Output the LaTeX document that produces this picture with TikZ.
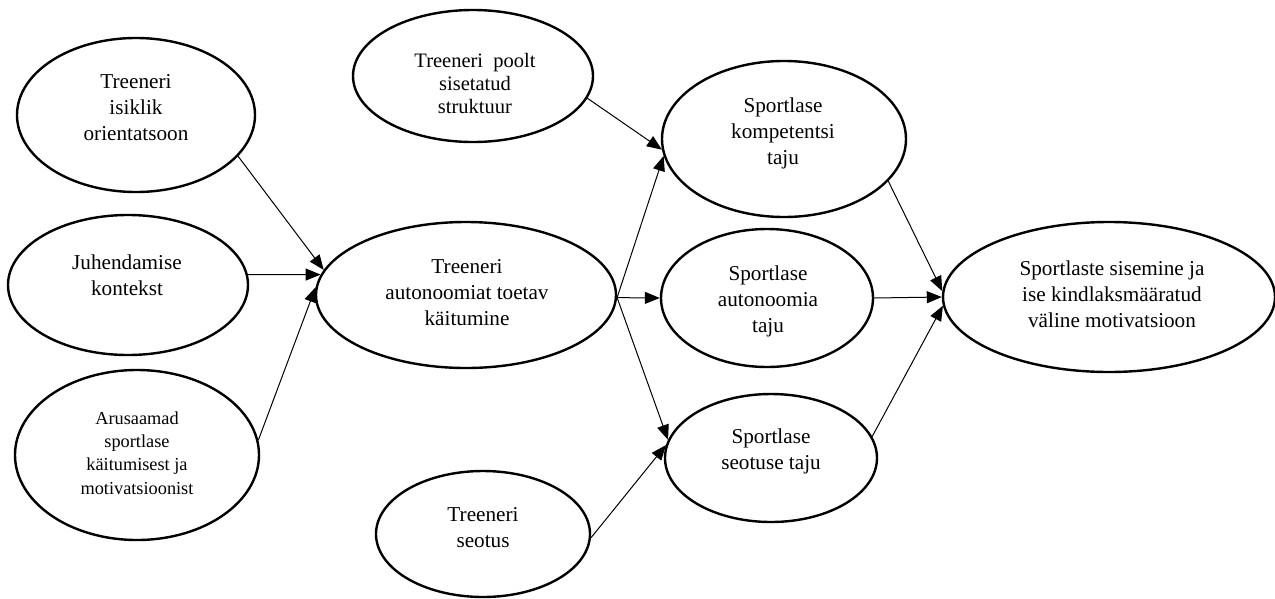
\documentclass[tikz,border=0pt]{standalone}
\usepackage{fontspec}
\setmainfont{Liberation Serif}
\usetikzlibrary{arrows.meta,shapes.geometric}
\tikzset{
  ell/.style={draw, ellipse, line width=2.4pt, inner sep=0pt},
  txt/.style={align=center, inner sep=0pt, font=\fontsize{21.2}{26}\selectfont},
  arr/.style={line width=1pt, -{Triangle[length=15pt,width=12pt]}}
}
\begin{document}
\begin{tikzpicture}[x=1pt,y=-1pt]
\useasboundingbox (0,0) rectangle (1275,598);
% ellipses
\node[ell, minimum width=238pt, minimum height=154pt] (e1) at (136,115) {};
\node[ell, minimum width=240pt, minimum height=140pt] (e2) at (128,285) {};
\node[ell, minimum width=244pt, minimum height=170pt] (e3) at (137,455) {};
\node[ell, minimum width=240pt, minimum height=132pt] (e4) at (473,76) {};
\node[ell, minimum width=300pt, minimum height=146pt] (e5) at (466,295) {};
\node[ell, minimum width=244pt, minimum height=156pt] (e6) at (784,139) {};
\node[ell, minimum width=212pt, minimum height=138pt] (e7) at (767,298) {};
\node[ell, minimum width=212pt, minimum height=128pt] (e8) at (771,458) {};
\node[ell, minimum width=332pt, minimum height=150pt] (e9) at (1109,297) {};
\node[ell, minimum width=214pt, minimum height=126pt] (e10) at (483,534) {};
% texts
\node[txt] (t1) at (136,108) {Treeneri\\isiklik\\orientatsoon};
\node[txt] (t2) at (127,275) {Juhendamise\\kontekst};
\node[txt, font=\fontsize{18.3}{23.3}\selectfont] (t3) at (137,453) {Arusaamad\\sportlase\\käitumisest ja\\motivatsioonist};
\node[txt, font=\fontsize{20.5}{23}\selectfont] (t4) at (475,83) {Treeneri\ \ poolt\\sisetatud\\struktuur};
\node[txt] (t5) at (467,293) {Treeneri\\autonoomiat toetav\\käitumine};
\node[txt] (t6) at (783,133) {Sportlase\\kompetentsi\\taju};
\node[txt] (t7) at (768,301) {Sportlase\\autonoomia\\taju};
\node[txt] (t8) at (771,451) {Sportlase\\seotuse taju};
\node[txt] (t9) at (1112,294) {Sportlaste sisemine ja\\ise kindlaksmääratud\\väline motivatsioon};
\node[txt] (t10) at (483,528) {Treeneri\\seotus};
% connectors
\draw[arr] (e1.-22) -- (e5.170);
\draw[arr] (e2.5) -- (e5.172);
\draw[arr] (e3.7) -- (e5.177);
\draw[arr] (e4.-11) -- (e6.185);
\draw[arr] (e5.-1) -- (e6.188.5);
\draw[arr] (e5.-1) -- (e7.180);
\draw[arr] (e5.-1) -- (e8.170);
\draw[arr] (e10.-2) -- (e8.173);
\draw[arr] (e6.-22) -- (e9.178);
\draw[arr] (e7.0) -- (e9.180);
\draw[arr] (e8.12) -- (e9.183);
\end{tikzpicture}
\end{document}
